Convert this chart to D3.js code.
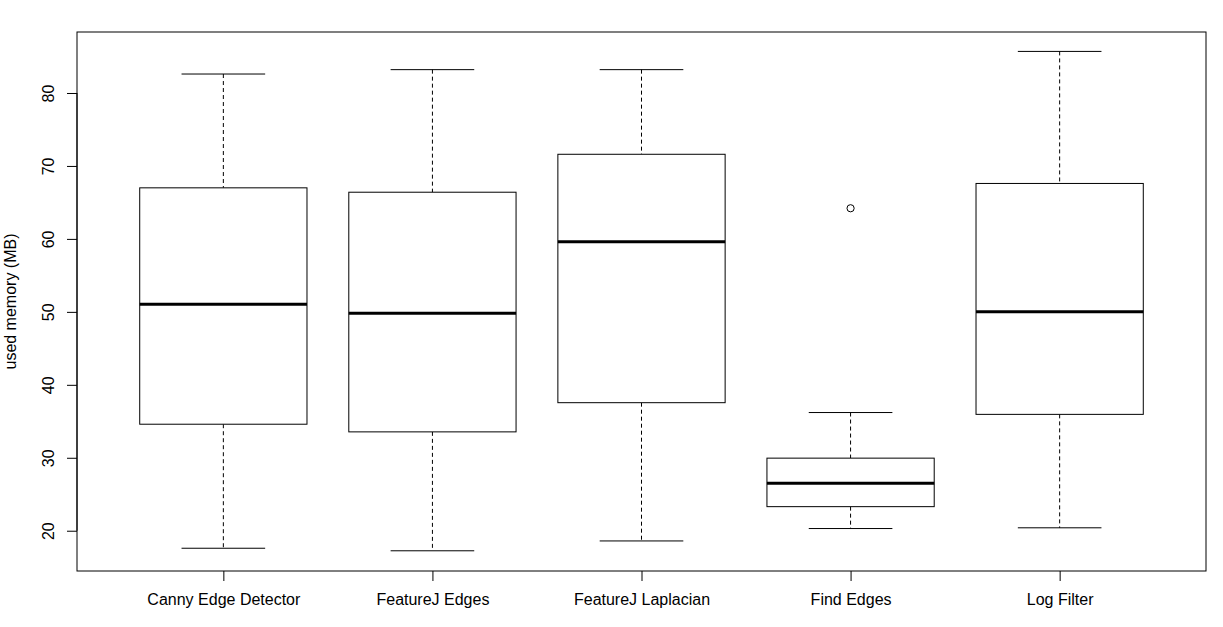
<!DOCTYPE html>
<html>
<head>
<meta charset="utf-8">
<script src="https://cdn.jsdelivr.net/npm/d3@7"></script>
<style>
  html, body { margin: 0; padding: 0; background: #fff; }
  svg { display: block; font-family: "Liberation Sans", Arial, Helvetica, sans-serif; }
</style>
</head>
<body>
<svg id="chart" width="1223" height="627"></svg>
<script>
// ---- Data ----
const categories = ["Canny Edge Detector", "FeatureJ Edges", "FeatureJ Laplacian", "Find Edges", "Log Filter"];
const whiskerLow  = [17.6, 17.25, 18.6, 20.3, 20.4];
const q1          = [34.6, 33.55, 37.55, 23.3, 35.95];
const medians     = [51.05, 49.8, 59.6, 26.5, 50.0];
const q3          = [67.0, 66.4, 71.6, 29.95, 67.6];
const whiskerHigh = [82.6, 83.2, 83.2, 36.2, 85.7];
const outliers    = [[], [], [], [64.2], []];
const yTicks      = [20, 30, 40, 50, 60, 70, 80];
const yLabel      = "used memory (MB)";

// ---- Layout ----
const svg = d3.select("#chart");
const plot = { left: 77, right: 1206, top: 32, bottom: 571 };

const x = d3.scaleLinear()
  .domain([0.5 - 0.2, categories.length + 0.5 + 0.2])
  .range([plot.left, plot.right]);

const y = d3.scaleLinear()
  .domain([14.48, 88.36])
  .range([plot.bottom, plot.top]);

const unit = x(2) - x(1);
const boxW = unit * 0.8;
const capW = unit * 0.4;

const data = categories.map((c, i) => ({
  name: c, i: i + 1,
  lo: whiskerLow[i], q1: q1[i], med: medians[i], q3: q3[i], hi: whiskerHigh[i],
  out: outliers[i]
}));

const g = svg.append("g");

const box = g.selectAll("g.box").data(data).enter().append("g").attr("class", "box");

// dashed whiskers
box.append("line")
  .attr("x1", d => x(d.i)).attr("x2", d => x(d.i))
  .attr("y1", d => y(d.hi)).attr("y2", d => y(d.q3))
  .attr("stroke", "#000").attr("stroke-width", 1).attr("stroke-dasharray", "4,3");
box.append("line")
  .attr("x1", d => x(d.i)).attr("x2", d => x(d.i))
  .attr("y1", d => y(d.q1)).attr("y2", d => y(d.lo))
  .attr("stroke", "#000").attr("stroke-width", 1).attr("stroke-dasharray", "4,3");
// caps
box.append("line")
  .attr("x1", d => x(d.i) - capW / 2).attr("x2", d => x(d.i) + capW / 2)
  .attr("y1", d => y(d.hi)).attr("y2", d => y(d.hi))
  .attr("stroke", "#000").attr("stroke-width", 1);
box.append("line")
  .attr("x1", d => x(d.i) - capW / 2).attr("x2", d => x(d.i) + capW / 2)
  .attr("y1", d => y(d.lo)).attr("y2", d => y(d.lo))
  .attr("stroke", "#000").attr("stroke-width", 1);
// box
box.append("rect")
  .attr("x", d => x(d.i) - boxW / 2)
  .attr("y", d => y(d.q3))
  .attr("width", boxW)
  .attr("height", d => y(d.q1) - y(d.q3))
  .attr("fill", "#fff").attr("stroke", "#000").attr("stroke-width", 1);
// median
box.append("line")
  .attr("x1", d => x(d.i) - boxW / 2).attr("x2", d => x(d.i) + boxW / 2)
  .attr("y1", d => y(d.med)).attr("y2", d => y(d.med))
  .attr("stroke", "#000").attr("stroke-width", 3);
// outliers
box.selectAll("circle").data(d => d.out.map(v => ({ i: d.i, v }))).enter().append("circle")
  .attr("cx", d => x(d.i)).attr("cy", d => y(d.v)).attr("r", 3.6)
  .attr("fill", "none").attr("stroke", "#000").attr("stroke-width", 1);

// frame
svg.append("rect")
  .attr("x", plot.left).attr("y", plot.top)
  .attr("width", plot.right - plot.left).attr("height", plot.bottom - plot.top)
  .attr("fill", "none").attr("stroke", "#000").attr("stroke-width", 1);

// y axis
const yAxis = d3.axisLeft(y).tickValues(yTicks).tickSize(10).tickPadding(0).tickFormat(d3.format("d"));
const ya = svg.append("g").attr("transform", `translate(${plot.left},0)`).call(yAxis);
ya.select(".domain").attr("d", `M0,${y(20)}V${y(80)}`);
ya.selectAll(".tick text")
  .attr("font-size", 16).attr("fill", "#000")
  .attr("text-anchor", "middle")
  .attr("x", 0).attr("dy", 0)
  .attr("transform", "translate(-23,0) rotate(-90)");

// x axis
const xAxis = d3.axisBottom(x).tickValues(data.map(d => d.i)).tickSize(10).tickFormat((d) => categories[d - 1]);
const xa = svg.append("g").attr("transform", `translate(0,${plot.bottom})`).call(xAxis);
xa.select(".domain").remove();
xa.selectAll(".tick text").attr("font-size", 16).attr("fill", "#000").attr("y", 23).attr("dy", "0.71em");

svg.selectAll(".tick line").attr("stroke", "#000");
svg.selectAll(".domain").attr("stroke", "#000");

// y label
svg.append("text")
  .attr("transform", `translate(16,${(plot.top + plot.bottom) / 2}) rotate(-90)`)
  .attr("text-anchor", "middle")
  .attr("font-size", 16)
  .attr("fill", "#000")
  .text(yLabel);
</script>
</body>
</html>
